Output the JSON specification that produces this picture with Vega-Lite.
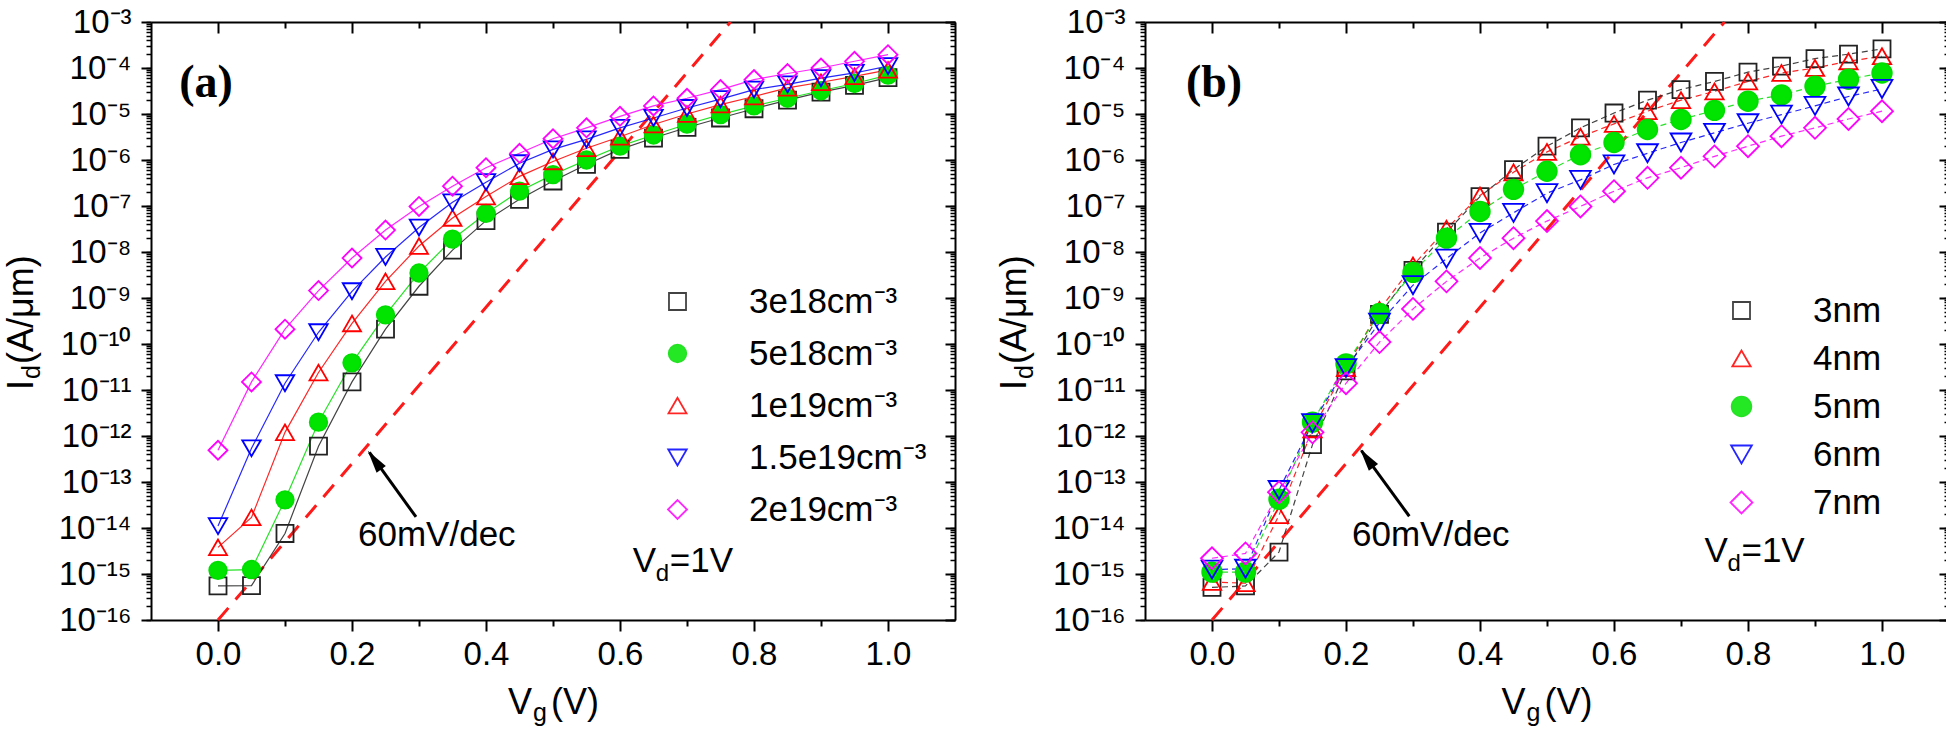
{
"$schema":"https://vega.github.io/schema/vega-lite/v6.json",
"background":"white",
"padding":{"left":4,"top":6,"right":2,"bottom":0},
"spacing":40,
"config":{"view":{"stroke":null},"axis":{"labelFont":"Liberation Sans","labelFontSize":33,"labelColor":"#000","domainColor":"#000","domainWidth":2,"tickColor":"#000","tickWidth":2,"grid":false,"labelFlush":false,"labelOverlap":false}},
"resolve":{"scale":{"color":"independent","shape":"independent","fill":"independent","size":"independent"}},
"datasets":{
"one":[{}],
"slope":[{"V":0,"I":1e-16},{"V":0.765,"I":1e-3}],
"a":[
{"V":0,"I":5.5e-16,"s":"3e18cm⁻³"},{"V":0.05,"I":5.6e-16,"s":"3e18cm⁻³"},{"V":0.1,"I":7.6e-15,"s":"3e18cm⁻³"},{"V":0.15,"I":6e-13,"s":"3e18cm⁻³"},{"V":0.2,"I":1.5e-11,"s":"3e18cm⁻³"},{"V":0.25,"I":2.1e-10,"s":"3e18cm⁻³"},{"V":0.3,"I":1.8e-9,"s":"3e18cm⁻³"},{"V":0.35,"I":1.1e-8,"s":"3e18cm⁻³"},{"V":0.4,"I":4.8e-8,"s":"3e18cm⁻³"},{"V":0.45,"I":1.4e-7,"s":"3e18cm⁻³"},{"V":0.5,"I":3.5e-7,"s":"3e18cm⁻³"},{"V":0.55,"I":8e-7,"s":"3e18cm⁻³"},{"V":0.6,"I":1.7e-6,"s":"3e18cm⁻³"},{"V":0.65,"I":3e-6,"s":"3e18cm⁻³"},{"V":0.7,"I":5.1e-6,"s":"3e18cm⁻³"},{"V":0.75,"I":8.2e-6,"s":"3e18cm⁻³"},{"V":0.8,"I":1.3e-5,"s":"3e18cm⁻³"},{"V":0.85,"I":2e-5,"s":"3e18cm⁻³"},{"V":0.9,"I":3e-5,"s":"3e18cm⁻³"},{"V":0.95,"I":4.2e-5,"s":"3e18cm⁻³"},{"V":1,"I":6.2e-5,"s":"3e18cm⁻³"},
{"V":0,"I":1.2e-15,"s":"5e18cm⁻³"},{"V":0.05,"I":1.25e-15,"s":"5e18cm⁻³"},{"V":0.1,"I":4.1e-14,"s":"5e18cm⁻³"},{"V":0.15,"I":2e-12,"s":"5e18cm⁻³"},{"V":0.2,"I":3.9e-11,"s":"5e18cm⁻³"},{"V":0.25,"I":4.3e-10,"s":"5e18cm⁻³"},{"V":0.3,"I":3.5e-9,"s":"5e18cm⁻³"},{"V":0.35,"I":1.9e-8,"s":"5e18cm⁻³"},{"V":0.4,"I":6.9e-8,"s":"5e18cm⁻³"},{"V":0.45,"I":2.1e-7,"s":"5e18cm⁻³"},{"V":0.5,"I":4.8e-7,"s":"5e18cm⁻³"},{"V":0.55,"I":1e-6,"s":"5e18cm⁻³"},{"V":0.6,"I":2e-6,"s":"5e18cm⁻³"},{"V":0.65,"I":3.5e-6,"s":"5e18cm⁻³"},{"V":0.7,"I":6e-6,"s":"5e18cm⁻³"},{"V":0.75,"I":9.7e-6,"s":"5e18cm⁻³"},{"V":0.8,"I":1.5e-5,"s":"5e18cm⁻³"},{"V":0.85,"I":2.2e-5,"s":"5e18cm⁻³"},{"V":0.9,"I":3.2e-5,"s":"5e18cm⁻³"},{"V":0.95,"I":4.6e-5,"s":"5e18cm⁻³"},{"V":1,"I":7e-5,"s":"5e18cm⁻³"},
{"V":0,"I":3.8e-15,"s":"1e19cm⁻³"},{"V":0.05,"I":1.7e-14,"s":"1e19cm⁻³"},{"V":0.1,"I":1.2e-12,"s":"1e19cm⁻³"},{"V":0.15,"I":2.4e-11,"s":"1e19cm⁻³"},{"V":0.2,"I":2.8e-10,"s":"1e19cm⁻³"},{"V":0.25,"I":2.3e-9,"s":"1e19cm⁻³"},{"V":0.3,"I":1.35e-8,"s":"1e19cm⁻³"},{"V":0.35,"I":5.5e-8,"s":"1e19cm⁻³"},{"V":0.4,"I":1.6e-7,"s":"1e19cm⁻³"},{"V":0.45,"I":4.4e-7,"s":"1e19cm⁻³"},{"V":0.5,"I":9.3e-7,"s":"1e19cm⁻³"},{"V":0.55,"I":1.8e-6,"s":"1e19cm⁻³"},{"V":0.6,"I":3.2e-6,"s":"1e19cm⁻³"},{"V":0.65,"I":5.9e-6,"s":"1e19cm⁻³"},{"V":0.7,"I":1e-5,"s":"1e19cm⁻³"},{"V":0.75,"I":1.6e-5,"s":"1e19cm⁻³"},{"V":0.8,"I":2.4e-5,"s":"1e19cm⁻³"},{"V":0.85,"I":3.7e-5,"s":"1e19cm⁻³"},{"V":0.9,"I":4.9e-5,"s":"1e19cm⁻³"},{"V":0.95,"I":6.6e-5,"s":"1e19cm⁻³"},{"V":1,"I":9.1e-5,"s":"1e19cm⁻³"},
{"V":0,"I":1.1e-14,"s":"1.5e19cm⁻³"},{"V":0.05,"I":5.4e-13,"s":"1.5e19cm⁻³"},{"V":0.1,"I":1.4e-11,"s":"1.5e19cm⁻³"},{"V":0.15,"I":1.8e-10,"s":"1.5e19cm⁻³"},{"V":0.2,"I":1.4e-9,"s":"1.5e19cm⁻³"},{"V":0.25,"I":7.8e-9,"s":"1.5e19cm⁻³"},{"V":0.3,"I":3.4e-8,"s":"1.5e19cm⁻³"},{"V":0.35,"I":1.2e-7,"s":"1.5e19cm⁻³"},{"V":0.4,"I":3.3e-7,"s":"1.5e19cm⁻³"},{"V":0.45,"I":8.5e-7,"s":"1.5e19cm⁻³"},{"V":0.5,"I":1.7e-6,"s":"1.5e19cm⁻³"},{"V":0.55,"I":2.8e-6,"s":"1.5e19cm⁻³"},{"V":0.6,"I":5e-6,"s":"1.5e19cm⁻³"},{"V":0.65,"I":8.2e-6,"s":"1.5e19cm⁻³"},{"V":0.7,"I":1.35e-5,"s":"1.5e19cm⁻³"},{"V":0.75,"I":2.1e-5,"s":"1.5e19cm⁻³"},{"V":0.8,"I":3.4e-5,"s":"1.5e19cm⁻³"},{"V":0.85,"I":4.4e-5,"s":"1.5e19cm⁻³"},{"V":0.9,"I":6e-5,"s":"1.5e19cm⁻³"},{"V":0.95,"I":7.8e-5,"s":"1.5e19cm⁻³"},{"V":1,"I":1.1e-4,"s":"1.5e19cm⁻³"},
{"V":0,"I":4.9e-13,"s":"2e19cm⁻³"},{"V":0.05,"I":1.5e-11,"s":"2e19cm⁻³"},{"V":0.1,"I":2.1e-10,"s":"2e19cm⁻³"},{"V":0.15,"I":1.45e-9,"s":"2e19cm⁻³"},{"V":0.2,"I":7.4e-9,"s":"2e19cm⁻³"},{"V":0.25,"I":3e-8,"s":"2e19cm⁻³"},{"V":0.3,"I":9.8e-8,"s":"2e19cm⁻³"},{"V":0.35,"I":2.7e-7,"s":"2e19cm⁻³"},{"V":0.4,"I":6.8e-7,"s":"2e19cm⁻³"},{"V":0.45,"I":1.4e-6,"s":"2e19cm⁻³"},{"V":0.5,"I":2.9e-6,"s":"2e19cm⁻³"},{"V":0.55,"I":5e-6,"s":"2e19cm⁻³"},{"V":0.6,"I":8.9e-6,"s":"2e19cm⁻³"},{"V":0.65,"I":1.5e-5,"s":"2e19cm⁻³"},{"V":0.7,"I":2.2e-5,"s":"2e19cm⁻³"},{"V":0.75,"I":3.4e-5,"s":"2e19cm⁻³"},{"V":0.8,"I":5.6e-5,"s":"2e19cm⁻³"},{"V":0.85,"I":7.6e-5,"s":"2e19cm⁻³"},{"V":0.9,"I":1e-4,"s":"2e19cm⁻³"},{"V":0.95,"I":1.4e-4,"s":"2e19cm⁻³"},{"V":1,"I":1.95e-4,"s":"2e19cm⁻³"}
],
"b":[
{"V":0,"I":5.1e-16,"s":"3nm"},{"V":0.05,"I":5.5e-16,"s":"3nm"},{"V":0.1,"I":3e-15,"s":"3nm"},{"V":0.15,"I":6.5e-13,"s":"3nm"},{"V":0.2,"I":2.6e-11,"s":"3nm"},{"V":0.25,"I":4.4e-10,"s":"3nm"},{"V":0.3,"I":4e-9,"s":"3nm"},{"V":0.35,"I":2.7e-8,"s":"3nm"},{"V":0.4,"I":1.6e-7,"s":"3nm"},{"V":0.45,"I":6.2e-7,"s":"3nm"},{"V":0.5,"I":2e-6,"s":"3nm"},{"V":0.55,"I":5e-6,"s":"3nm"},{"V":0.6,"I":1.05e-5,"s":"3nm"},{"V":0.65,"I":2e-5,"s":"3nm"},{"V":0.7,"I":3.4e-5,"s":"3nm"},{"V":0.75,"I":5.1e-5,"s":"3nm"},{"V":0.8,"I":8.1e-5,"s":"3nm"},{"V":0.85,"I":1.1e-4,"s":"3nm"},{"V":0.9,"I":1.6e-4,"s":"3nm"},{"V":0.95,"I":2e-4,"s":"3nm"},{"V":1,"I":2.6e-4,"s":"3nm"},
{"V":0,"I":6.7e-16,"s":"4nm"},{"V":0.05,"I":6.3e-16,"s":"4nm"},{"V":0.1,"I":1.9e-14,"s":"4nm"},{"V":0.15,"I":1.4e-12,"s":"4nm"},{"V":0.2,"I":3e-11,"s":"4nm"},{"V":0.25,"I":5.5e-10,"s":"4nm"},{"V":0.3,"I":5.1e-9,"s":"4nm"},{"V":0.35,"I":3.2e-8,"s":"4nm"},{"V":0.4,"I":1.7e-7,"s":"4nm"},{"V":0.45,"I":5.4e-7,"s":"4nm"},{"V":0.5,"I":1.5e-6,"s":"4nm"},{"V":0.55,"I":3.2e-6,"s":"4nm"},{"V":0.6,"I":6.1e-6,"s":"4nm"},{"V":0.65,"I":1.15e-5,"s":"4nm"},{"V":0.7,"I":2e-5,"s":"4nm"},{"V":0.75,"I":3.1e-5,"s":"4nm"},{"V":0.8,"I":5.1e-5,"s":"4nm"},{"V":0.85,"I":7.8e-5,"s":"4nm"},{"V":0.9,"I":1e-4,"s":"4nm"},{"V":0.95,"I":1.4e-4,"s":"4nm"},{"V":1,"I":1.8e-4,"s":"4nm"},
{"V":0,"I":1.1e-15,"s":"5nm"},{"V":0.05,"I":1.1e-15,"s":"5nm"},{"V":0.1,"I":4.2e-14,"s":"5nm"},{"V":0.15,"I":2e-12,"s":"5nm"},{"V":0.2,"I":3.7e-11,"s":"5nm"},{"V":0.25,"I":4.6e-10,"s":"5nm"},{"V":0.3,"I":3.6e-9,"s":"5nm"},{"V":0.35,"I":2e-8,"s":"5nm"},{"V":0.4,"I":7.6e-8,"s":"5nm"},{"V":0.45,"I":2.3e-7,"s":"5nm"},{"V":0.5,"I":5.7e-7,"s":"5nm"},{"V":0.55,"I":1.3e-6,"s":"5nm"},{"V":0.6,"I":2.4e-6,"s":"5nm"},{"V":0.65,"I":4.6e-6,"s":"5nm"},{"V":0.7,"I":7.6e-6,"s":"5nm"},{"V":0.75,"I":1.2e-5,"s":"5nm"},{"V":0.8,"I":1.9e-5,"s":"5nm"},{"V":0.85,"I":2.6e-5,"s":"5nm"},{"V":0.9,"I":4e-5,"s":"5nm"},{"V":0.95,"I":5.7e-5,"s":"5nm"},{"V":1,"I":7.8e-5,"s":"5nm"},
{"V":0,"I":1.25e-15,"s":"6nm"},{"V":0.05,"I":1.3e-15,"s":"6nm"},{"V":0.1,"I":6.7e-14,"s":"6nm"},{"V":0.15,"I":1.9e-12,"s":"6nm"},{"V":0.2,"I":3e-11,"s":"6nm"},{"V":0.25,"I":2.9e-10,"s":"6nm"},{"V":0.3,"I":1.9e-9,"s":"6nm"},{"V":0.35,"I":7.2e-9,"s":"6nm"},{"V":0.4,"I":2.6e-8,"s":"6nm"},{"V":0.45,"I":7.1e-8,"s":"6nm"},{"V":0.5,"I":1.9e-7,"s":"6nm"},{"V":0.55,"I":3.7e-7,"s":"6nm"},{"V":0.6,"I":8e-7,"s":"6nm"},{"V":0.65,"I":1.4e-6,"s":"6nm"},{"V":0.7,"I":2.4e-6,"s":"6nm"},{"V":0.75,"I":3.9e-6,"s":"6nm"},{"V":0.8,"I":6.3e-6,"s":"6nm"},{"V":0.85,"I":9.7e-6,"s":"6nm"},{"V":0.9,"I":1.5e-5,"s":"6nm"},{"V":0.95,"I":2.4e-5,"s":"6nm"},{"V":1,"I":3.5e-5,"s":"6nm"},
{"V":0,"I":2.2e-15,"s":"7nm"},{"V":0.05,"I":2.8e-15,"s":"7nm"},{"V":0.1,"I":6e-14,"s":"7nm"},{"V":0.15,"I":1.2e-12,"s":"7nm"},{"V":0.2,"I":1.4e-11,"s":"7nm"},{"V":0.25,"I":1.1e-10,"s":"7nm"},{"V":0.3,"I":5.8e-10,"s":"7nm"},{"V":0.35,"I":2.3e-9,"s":"7nm"},{"V":0.4,"I":7.4e-9,"s":"7nm"},{"V":0.45,"I":2e-8,"s":"7nm"},{"V":0.5,"I":4.7e-8,"s":"7nm"},{"V":0.55,"I":9.8e-8,"s":"7nm"},{"V":0.6,"I":2.1e-7,"s":"7nm"},{"V":0.65,"I":4.1e-7,"s":"7nm"},{"V":0.7,"I":6.8e-7,"s":"7nm"},{"V":0.75,"I":1.2e-6,"s":"7nm"},{"V":0.8,"I":2e-6,"s":"7nm"},{"V":0.85,"I":3.3e-6,"s":"7nm"},{"V":0.9,"I":5e-6,"s":"7nm"},{"V":0.95,"I":7.8e-6,"s":"7nm"},{"V":1,"I":1.15e-5,"s":"7nm"}
]
},
"hconcat":[
{
"width":804,"height":598,
"resolve":{"axis":{"x":"independent","y":"independent"}},
"layer":[
{"data":{"name":"slope"},"mark":{"type":"line","color":"#ff1a1a","strokeWidth":3,"strokeDash":[16,11]},
 "encoding":{
  "x":{"field":"V","type":"quantitative","scale":{"domain":[-0.1,1.1],"nice":false,"zero":false},"axis":{"orient":"bottom","values":[0,0.2,0.4,0.6,0.8,1],"format":".1f","tickSize":11,"labelPadding":7,"title":null}},
  "y":{"field":"I","type":"quantitative","scale":{"type":"log","domain":[1e-16,1e-3],"nice":false},"axis":{"orient":"left","values":[1e-3,1e-4,1e-5,1e-6,1e-7,1e-8,1e-9,1e-10,1e-11,1e-12,1e-13,1e-14,1e-15,1e-16],"tickSize":10,"labelPadding":10,"title":null,"labelExpr":"'10' + replace(replace(replace(replace(replace(replace(replace(replace(replace(replace(replace('' + round(log(datum.value) / LN10), regexp('-','g'), '⁻'), regexp('0','g'), '⁰'), regexp('1','g'), '¹'), regexp('2','g'), '²'), regexp('3','g'), '³'), regexp('4','g'), '⁴'), regexp('5','g'), '⁵'), regexp('6','g'), '⁶'), regexp('7','g'), '⁷'), regexp('8','g'), '⁸'), regexp('9','g'), '⁹')"}}
 }},
{"data":{"name":"a"},"mark":{"type":"line","strokeWidth":1.2,"opacity":0.85},
 "encoding":{
  "x":{"field":"V","type":"quantitative","scale":{"domain":[-0.1,1.1],"nice":false,"zero":false},"axis":{"orient":"bottom","values":[0.1,0.3,0.5,0.7,0.9],"labels":false,"tickSize":6,"domain":false,"title":null}},
  "y":{"field":"I","type":"quantitative","scale":{"type":"log","domain":[1e-16,1e-3],"nice":false},"axis":{"orient":"left","tickCount":100,"labels":false,"tickSize":5,"tickWidth":1.5,"domain":false,"title":null}},
  "color":{"field":"s","type":"nominal","scale":{"domain":["3e18cm⁻³","5e18cm⁻³","1e19cm⁻³","1.5e19cm⁻³","2e19cm⁻³"],"range":["#222222","#00dd00","#ff0000","#0000ff","#ff00ff"]}}
 }},
{"data":{"name":"a"},"mark":{"type":"point","filled":false,"strokeWidth":1.8,"opacity":1},
 "encoding":{
  "x":{"field":"V","type":"quantitative","scale":{"domain":[-0.1,1.1],"nice":false,"zero":false},"axis":{"orient":"top","values":[0,0.2,0.4,0.6,0.8,1],"labels":false,"tickSize":-11,"title":null}},
  "y":{"field":"I","type":"quantitative","scale":{"type":"log","domain":[1e-16,1e-3],"nice":false},"axis":{"orient":"right","values":[1e-3,1e-4,1e-5,1e-6,1e-7,1e-8,1e-9,1e-10,1e-11,1e-12,1e-13,1e-14,1e-15,1e-16],"labels":false,"tickSize":-10,"title":null}},
  "color":{"field":"s","type":"nominal","scale":{"domain":["3e18cm⁻³","5e18cm⁻³","1e19cm⁻³","1.5e19cm⁻³","2e19cm⁻³"],"range":["#222222","#00dd00","#ff0000","#0000ff","#ff00ff"]},
   "legend":{"title":null,"orient":"none","legendX":509,"legendY":262,"padding":0,"labelFont":"Liberation Sans","labelFontSize":35,"labelColor":"#000","labelLimit":400,"labelOffset":54,"symbolSize":420,"symbolStrokeWidth":1.8,"rowPadding":16}},
  "shape":{"field":"s","type":"nominal","scale":{"domain":["3e18cm⁻³","5e18cm⁻³","1e19cm⁻³","1.5e19cm⁻³","2e19cm⁻³"],"range":["square","circle","triangle-up","triangle-down","diamond"]}},
  "fill":{"field":"s","type":"nominal","scale":{"domain":["3e18cm⁻³","5e18cm⁻³","1e19cm⁻³","1.5e19cm⁻³","2e19cm⁻³"],"range":["transparent","#00e400","transparent","transparent","transparent"]}},
  "size":{"field":"s","type":"nominal","scale":{"domain":["3e18cm⁻³","5e18cm⁻³","1e19cm⁻³","1.5e19cm⁻³","2e19cm⁻³"],"range":[290,360,480,480,450]},"legend":null}
 }},
{"data":{"name":"one"},"mark":{"type":"text","font":"Liberation Sans","fontSize":35,"align":"left","baseline":"alphabetic","color":"#000"},
 "encoding":{
  "x":{"datum":0.209,"type":"quantitative","scale":{"domain":[-0.1,1.1],"nice":false,"zero":false},"axis":{"orient":"top","values":[0.1,0.3,0.5,0.7,0.9],"labels":false,"tickSize":-6,"domain":false,"title":null}},
  "y":{"datum":4.1e-15,"type":"quantitative","scale":{"type":"log","domain":[1e-16,1e-3],"nice":false},"axis":{"orient":"right","tickCount":100,"labels":false,"tickSize":-5,"tickWidth":1.5,"domain":false,"title":null}},
  "text":{"value":"60mV/dec"}}},
{"data":{"name":"one"},"mark":{"type":"text","font":"Liberation Serif","fontWeight":"bold","fontSize":46,"align":"center","baseline":"middle","color":"#000"},
 "encoding":{"x":{"datum":-0.018,"type":"quantitative","scale":{"domain":[-0.1,1.1],"nice":false,"zero":false},"axis":null},"y":{"datum":4.7e-5,"type":"quantitative","scale":{"type":"log","domain":[1e-16,1e-3],"nice":false},"axis":null},"text":{"value":"(a)"}}},
{"data":{"name":"one"},"mark":{"type":"rule","strokeWidth":3,"color":"#000"},
 "encoding":{"x":{"datum":0.2955,"type":"quantitative","scale":{"domain":[-0.1,1.1],"nice":false,"zero":false},"axis":null},"y":{"datum":1.74e-14,"type":"quantitative","scale":{"type":"log","domain":[1e-16,1e-3],"nice":false},"axis":null},"x2":{"datum":0.226},"y2":{"datum":4.4e-13}}},
{"data":{"name":"one"},"mark":{"type":"point","shape":"M0,-1L0.5,1L-0.5,1Z","filled":true,"color":"#000","opacity":1,"size":520,"angle":324},
 "encoding":{"x":{"datum":0.2336,"type":"quantitative","scale":{"domain":[-0.1,1.1],"nice":false,"zero":false},"axis":null},"y":{"datum":3e-13,"type":"quantitative","scale":{"type":"log","domain":[1e-16,1e-3],"nice":false},"axis":null}}},
{"data":{"name":"one"},"mark":{"type":"text","font":"Liberation Sans","fontSize":35,"align":"left","baseline":"alphabetic","color":"#000"},
 "encoding":{"x":{"datum":0.619,"type":"quantitative","scale":{"domain":[-0.1,1.1],"nice":false,"zero":false},"axis":null},"y":{"datum":1.1e-15,"type":"quantitative","scale":{"type":"log","domain":[1e-16,1e-3],"nice":false},"axis":null},"text":{"value":"V"}}},
{"data":{"name":"one"},"mark":{"type":"text","font":"Liberation Sans","fontSize":24,"align":"left","baseline":"alphabetic","color":"#000","dx":23,"dy":9},
 "encoding":{"x":{"datum":0.619,"type":"quantitative","scale":{"domain":[-0.1,1.1],"nice":false,"zero":false},"axis":null},"y":{"datum":1.1e-15,"type":"quantitative","scale":{"type":"log","domain":[1e-16,1e-3],"nice":false},"axis":null},"text":{"value":"d"}}},
{"data":{"name":"one"},"mark":{"type":"text","font":"Liberation Sans","fontSize":35,"align":"left","baseline":"alphabetic","color":"#000","dx":37},
 "encoding":{"x":{"datum":0.619,"type":"quantitative","scale":{"domain":[-0.1,1.1],"nice":false,"zero":false},"axis":null},"y":{"datum":1.1e-15,"type":"quantitative","scale":{"type":"log","domain":[1e-16,1e-3],"nice":false},"axis":null},"text":{"value":"=1V"}}},
{"data":{"name":"one"},"mark":{"type":"text","font":"Liberation Sans","fontSize":36,"align":"left","baseline":"alphabetic","color":"#000"},
 "encoding":{"x":{"datum":0.433,"type":"quantitative","scale":{"domain":[-0.1,1.1],"nice":false,"zero":false},"axis":null},"y":{"datum":9.1e-19,"type":"quantitative","scale":{"type":"log","domain":[1e-16,1e-3],"nice":false},"axis":null},"text":{"value":"V"}}},
{"data":{"name":"one"},"mark":{"type":"text","font":"Liberation Sans","fontSize":25,"align":"left","baseline":"alphabetic","color":"#000","dx":25,"dy":7},
 "encoding":{"x":{"datum":0.433,"type":"quantitative","scale":{"domain":[-0.1,1.1],"nice":false,"zero":false},"axis":null},"y":{"datum":9.1e-19,"type":"quantitative","scale":{"type":"log","domain":[1e-16,1e-3],"nice":false},"axis":null},"text":{"value":"g"}}},
{"data":{"name":"one"},"mark":{"type":"text","font":"Liberation Sans","fontSize":36,"align":"left","baseline":"alphabetic","color":"#000","dx":43},
 "encoding":{"x":{"datum":0.433,"type":"quantitative","scale":{"domain":[-0.1,1.1],"nice":false,"zero":false},"axis":null},"y":{"datum":9.1e-19,"type":"quantitative","scale":{"type":"log","domain":[1e-16,1e-3],"nice":false},"axis":null},"text":{"value":"(V)"}}},
{"data":{"name":"one"},"mark":{"type":"text","font":"Liberation Sans","fontSize":36,"align":"left","baseline":"alphabetic","color":"#000","angle":270},
 "encoding":{"x":{"datum":-0.276,"type":"quantitative","scale":{"domain":[-0.1,1.1],"nice":false,"zero":false},"axis":null},"y":{"datum":1e-11,"type":"quantitative","scale":{"type":"log","domain":[1e-16,1e-3],"nice":false},"axis":null},"text":{"value":"I"}}},
{"data":{"name":"one"},"mark":{"type":"text","font":"Liberation Sans","fontSize":25,"align":"left","baseline":"alphabetic","color":"#000","angle":270,"dx":11,"dy":7},
 "encoding":{"x":{"datum":-0.276,"type":"quantitative","scale":{"domain":[-0.1,1.1],"nice":false,"zero":false},"axis":null},"y":{"datum":1e-11,"type":"quantitative","scale":{"type":"log","domain":[1e-16,1e-3],"nice":false},"axis":null},"text":{"value":"d"}}},
{"data":{"name":"one"},"mark":{"type":"text","font":"Liberation Sans","fontSize":36,"align":"left","baseline":"alphabetic","color":"#000","angle":270,"dx":26},
 "encoding":{"x":{"datum":-0.276,"type":"quantitative","scale":{"domain":[-0.1,1.1],"nice":false,"zero":false},"axis":null},"y":{"datum":1e-11,"type":"quantitative","scale":{"type":"log","domain":[1e-16,1e-3],"nice":false},"axis":null},"text":{"value":"(A/μm)"}}}
]
},
{
"width":804,"height":598,
"resolve":{"axis":{"x":"independent","y":"independent"}},
"layer":[
{"data":{"name":"slope"},"mark":{"type":"line","color":"#ff1a1a","strokeWidth":3,"strokeDash":[16,11]},
 "encoding":{
  "x":{"field":"V","type":"quantitative","scale":{"domain":[-0.1,1.1],"nice":false,"zero":false},"axis":{"orient":"bottom","values":[0,0.2,0.4,0.6,0.8,1],"format":".1f","tickSize":11,"labelPadding":7,"title":null}},
  "y":{"field":"I","type":"quantitative","scale":{"type":"log","domain":[1e-16,1e-3],"nice":false},"axis":{"orient":"left","values":[1e-3,1e-4,1e-5,1e-6,1e-7,1e-8,1e-9,1e-10,1e-11,1e-12,1e-13,1e-14,1e-15,1e-16],"tickSize":10,"labelPadding":10,"title":null,"labelExpr":"'10' + replace(replace(replace(replace(replace(replace(replace(replace(replace(replace(replace('' + round(log(datum.value) / LN10), regexp('-','g'), '⁻'), regexp('0','g'), '⁰'), regexp('1','g'), '¹'), regexp('2','g'), '²'), regexp('3','g'), '³'), regexp('4','g'), '⁴'), regexp('5','g'), '⁵'), regexp('6','g'), '⁶'), regexp('7','g'), '⁷'), regexp('8','g'), '⁸'), regexp('9','g'), '⁹')"}}
 }},
{"data":{"name":"b"},"mark":{"type":"line","strokeWidth":1.2,"opacity":0.85,"strokeDash":[6,4]},
 "encoding":{
  "x":{"field":"V","type":"quantitative","scale":{"domain":[-0.1,1.1],"nice":false,"zero":false},"axis":{"orient":"bottom","values":[0.1,0.3,0.5,0.7,0.9],"labels":false,"tickSize":6,"domain":false,"title":null}},
  "y":{"field":"I","type":"quantitative","scale":{"type":"log","domain":[1e-16,1e-3],"nice":false},"axis":{"orient":"left","tickCount":100,"labels":false,"tickSize":5,"tickWidth":1.5,"domain":false,"title":null}},
  "color":{"field":"s","type":"nominal","scale":{"domain":["3nm","4nm","5nm","6nm","7nm"],"range":["#222222","#ff0000","#00dd00","#0000ff","#ff00ff"]}}
 }},
{"data":{"name":"b"},"mark":{"type":"point","filled":false,"strokeWidth":1.8,"opacity":1},
 "encoding":{
  "x":{"field":"V","type":"quantitative","scale":{"domain":[-0.1,1.1],"nice":false,"zero":false},"axis":{"orient":"top","values":[0,0.2,0.4,0.6,0.8,1],"labels":false,"tickSize":-11,"title":null}},
  "y":{"field":"I","type":"quantitative","scale":{"type":"log","domain":[1e-16,1e-3],"nice":false},"axis":{"orient":"right","values":[1e-3,1e-4,1e-5,1e-6,1e-7,1e-8,1e-9,1e-10,1e-11,1e-12,1e-13,1e-14,1e-15,1e-16],"labels":false,"tickSize":-10,"title":null}},
  "color":{"field":"s","type":"nominal","scale":{"domain":["3nm","4nm","5nm","6nm","7nm"],"range":["#222222","#ff0000","#00dd00","#0000ff","#ff00ff"]},
   "legend":{"title":null,"orient":"none","legendX":579,"legendY":271,"padding":0,"labelFont":"Liberation Sans","labelFontSize":35,"labelColor":"#000","labelLimit":400,"labelOffset":54,"symbolSize":420,"symbolStrokeWidth":1.8,"rowPadding":12}},
  "shape":{"field":"s","type":"nominal","scale":{"domain":["3nm","4nm","5nm","6nm","7nm"],"range":["square","triangle-up","circle","triangle-down","diamond"]}},
  "fill":{"field":"s","type":"nominal","scale":{"domain":["3nm","4nm","5nm","6nm","7nm"],"range":["transparent","transparent","#00e400","transparent","transparent"]}},
  "size":{"field":"s","type":"nominal","scale":{"domain":["3nm","4nm","5nm","6nm","7nm"],"range":[290,480,360,480,450]},"legend":null}
 }},
{"data":{"name":"one"},"mark":{"type":"text","font":"Liberation Sans","fontSize":35,"align":"left","baseline":"alphabetic","color":"#000"},
 "encoding":{
  "x":{"datum":0.209,"type":"quantitative","scale":{"domain":[-0.1,1.1],"nice":false,"zero":false},"axis":{"orient":"top","values":[0.1,0.3,0.5,0.7,0.9],"labels":false,"tickSize":-6,"domain":false,"title":null}},
  "y":{"datum":4.1e-15,"type":"quantitative","scale":{"type":"log","domain":[1e-16,1e-3],"nice":false},"axis":{"orient":"right","tickCount":100,"labels":false,"tickSize":-5,"tickWidth":1.5,"domain":false,"title":null}},
  "text":{"value":"60mV/dec"}}},
{"data":{"name":"one"},"mark":{"type":"text","font":"Liberation Serif","fontWeight":"bold","fontSize":46,"align":"center","baseline":"middle","color":"#000"},
 "encoding":{"x":{"datum":0.003,"type":"quantitative","scale":{"domain":[-0.1,1.1],"nice":false,"zero":false},"axis":null},"y":{"datum":4.7e-5,"type":"quantitative","scale":{"type":"log","domain":[1e-16,1e-3],"nice":false},"axis":null},"text":{"value":"(b)"}}},
{"data":{"name":"one"},"mark":{"type":"rule","strokeWidth":3,"color":"#000"},
 "encoding":{"x":{"datum":0.2945,"type":"quantitative","scale":{"domain":[-0.1,1.1],"nice":false,"zero":false},"axis":null},"y":{"datum":1.8e-14,"type":"quantitative","scale":{"type":"log","domain":[1e-16,1e-3],"nice":false},"axis":null},"x2":{"datum":0.223},"y2":{"datum":4.8e-13}}},
{"data":{"name":"one"},"mark":{"type":"point","shape":"M0,-1L0.5,1L-0.5,1Z","filled":true,"color":"#000","opacity":1,"size":520,"angle":324},
 "encoding":{"x":{"datum":0.231,"type":"quantitative","scale":{"domain":[-0.1,1.1],"nice":false,"zero":false},"axis":null},"y":{"datum":3.3e-13,"type":"quantitative","scale":{"type":"log","domain":[1e-16,1e-3],"nice":false},"axis":null}}},
{"data":{"name":"one"},"mark":{"type":"text","font":"Liberation Sans","fontSize":35,"align":"left","baseline":"alphabetic","color":"#000"},
 "encoding":{"x":{"datum":0.735,"type":"quantitative","scale":{"domain":[-0.1,1.1],"nice":false,"zero":false},"axis":null},"y":{"datum":1.8e-15,"type":"quantitative","scale":{"type":"log","domain":[1e-16,1e-3],"nice":false},"axis":null},"text":{"value":"V"}}},
{"data":{"name":"one"},"mark":{"type":"text","font":"Liberation Sans","fontSize":24,"align":"left","baseline":"alphabetic","color":"#000","dx":23,"dy":9},
 "encoding":{"x":{"datum":0.735,"type":"quantitative","scale":{"domain":[-0.1,1.1],"nice":false,"zero":false},"axis":null},"y":{"datum":1.8e-15,"type":"quantitative","scale":{"type":"log","domain":[1e-16,1e-3],"nice":false},"axis":null},"text":{"value":"d"}}},
{"data":{"name":"one"},"mark":{"type":"text","font":"Liberation Sans","fontSize":35,"align":"left","baseline":"alphabetic","color":"#000","dx":37},
 "encoding":{"x":{"datum":0.735,"type":"quantitative","scale":{"domain":[-0.1,1.1],"nice":false,"zero":false},"axis":null},"y":{"datum":1.8e-15,"type":"quantitative","scale":{"type":"log","domain":[1e-16,1e-3],"nice":false},"axis":null},"text":{"value":"=1V"}}},
{"data":{"name":"one"},"mark":{"type":"text","font":"Liberation Sans","fontSize":36,"align":"left","baseline":"alphabetic","color":"#000"},
 "encoding":{"x":{"datum":0.432,"type":"quantitative","scale":{"domain":[-0.1,1.1],"nice":false,"zero":false},"axis":null},"y":{"datum":9.1e-19,"type":"quantitative","scale":{"type":"log","domain":[1e-16,1e-3],"nice":false},"axis":null},"text":{"value":"V"}}},
{"data":{"name":"one"},"mark":{"type":"text","font":"Liberation Sans","fontSize":25,"align":"left","baseline":"alphabetic","color":"#000","dx":25,"dy":7},
 "encoding":{"x":{"datum":0.432,"type":"quantitative","scale":{"domain":[-0.1,1.1],"nice":false,"zero":false},"axis":null},"y":{"datum":9.1e-19,"type":"quantitative","scale":{"type":"log","domain":[1e-16,1e-3],"nice":false},"axis":null},"text":{"value":"g"}}},
{"data":{"name":"one"},"mark":{"type":"text","font":"Liberation Sans","fontSize":36,"align":"left","baseline":"alphabetic","color":"#000","dx":43},
 "encoding":{"x":{"datum":0.432,"type":"quantitative","scale":{"domain":[-0.1,1.1],"nice":false,"zero":false},"axis":null},"y":{"datum":9.1e-19,"type":"quantitative","scale":{"type":"log","domain":[1e-16,1e-3],"nice":false},"axis":null},"text":{"value":"(V)"}}},
{"data":{"name":"one"},"mark":{"type":"text","font":"Liberation Sans","fontSize":36,"align":"left","baseline":"alphabetic","color":"#000","angle":270},
 "encoding":{"x":{"datum":-0.278,"type":"quantitative","scale":{"domain":[-0.1,1.1],"nice":false,"zero":false},"axis":null},"y":{"datum":1e-11,"type":"quantitative","scale":{"type":"log","domain":[1e-16,1e-3],"nice":false},"axis":null},"text":{"value":"I"}}},
{"data":{"name":"one"},"mark":{"type":"text","font":"Liberation Sans","fontSize":25,"align":"left","baseline":"alphabetic","color":"#000","angle":270,"dx":11,"dy":7},
 "encoding":{"x":{"datum":-0.278,"type":"quantitative","scale":{"domain":[-0.1,1.1],"nice":false,"zero":false},"axis":null},"y":{"datum":1e-11,"type":"quantitative","scale":{"type":"log","domain":[1e-16,1e-3],"nice":false},"axis":null},"text":{"value":"d"}}},
{"data":{"name":"one"},"mark":{"type":"text","font":"Liberation Sans","fontSize":36,"align":"left","baseline":"alphabetic","color":"#000","angle":270,"dx":26},
 "encoding":{"x":{"datum":-0.278,"type":"quantitative","scale":{"domain":[-0.1,1.1],"nice":false,"zero":false},"axis":null},"y":{"datum":1e-11,"type":"quantitative","scale":{"type":"log","domain":[1e-16,1e-3],"nice":false},"axis":null},"text":{"value":"(A/μm)"}}}
]
}
]
}
